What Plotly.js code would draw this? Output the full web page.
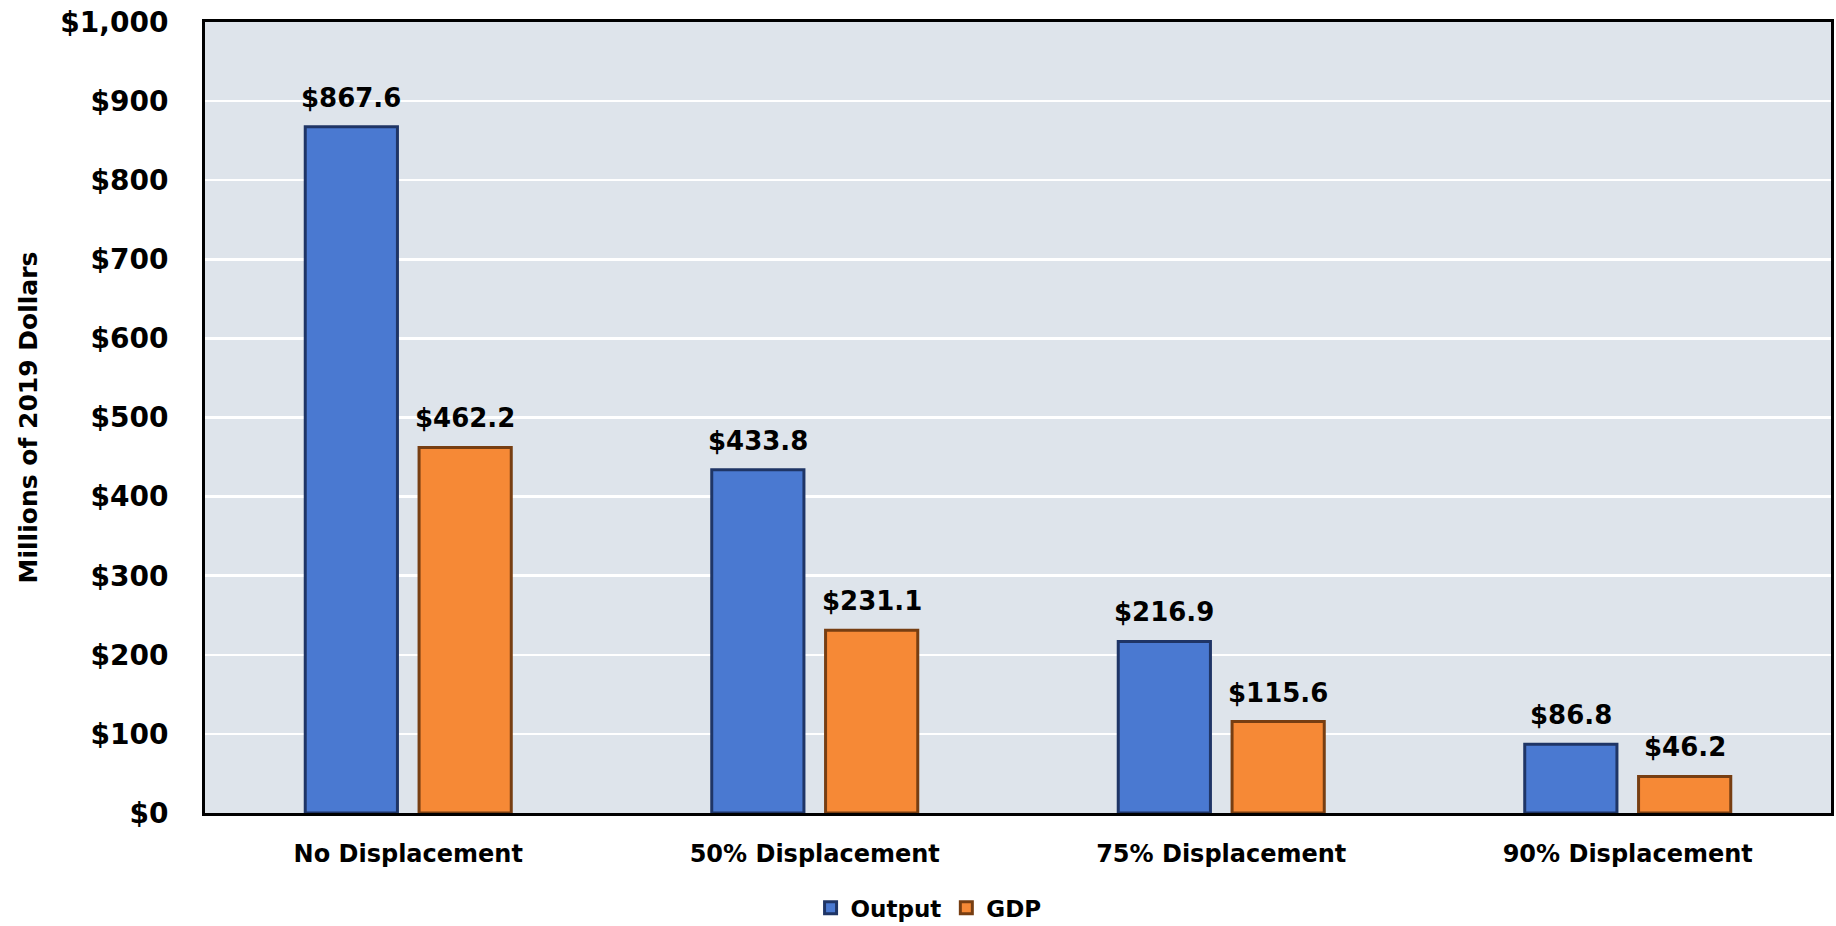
<!DOCTYPE html>
<html>
<head>
<meta charset="utf-8">
<script src="https://cdn.plot.ly/plotly-3.0.1.min.js"></script>
<style>html,body{margin:0;padding:0;background:#fff;}#chart{width:1836px;height:926px;}</style>
</head>
<body>
<div id="chart"></div>
<script>
const categories = ["No Displacement", "50% Displacement", "75% Displacement", "90% Displacement"];
const outputValues = [867.6, 433.8, 216.9, 86.8];
const gdpValues = [462.2, 231.1, 115.6, 46.2];
const yTickVals = [0, 100, 200, 300, 400, 500, 600, 700, 800, 900, 1000];
const yTickText = ["$0", "$100", "$200", "$300", "$400", "$500", "$600", "$700", "$800", "$900", "$1,000"];

const FONT = "'DejaVu Sans', Lato, sans-serif";
const fmt = v => "$" + v.toFixed(1);

const traces = [
  {
    type: "bar", name: "Output", x: categories, y: outputValues,
    marker: {color: "#4a79d1", line: {color: "#1f3566", width: 3}},
    hoverinfo: "skip"
  },
  {
    type: "bar", name: "GDP", x: categories, y: gdpValues,
    marker: {color: "#f68936", line: {color: "#773e12", width: 3}},
    hoverinfo: "skip"
  }
];

const annotations = [];
categories.forEach((c, i) => {
  annotations.push({x: c, y: outputValues[i], xref: "x", yref: "y", text: fmt(outputValues[i]),
    showarrow: false, yanchor: "bottom", xshift: -57, yshift: 12,
    font: {family: FONT, size: 26, color: "#000", weight: "bold"}});
  annotations.push({x: c, y: gdpValues[i], xref: "x", yref: "y", text: fmt(gdpValues[i]),
    showarrow: false, yanchor: "bottom", xshift: 57, yshift: 12,
    font: {family: FONT, size: 26, color: "#000", weight: "bold"}});
});

const layout = {
  width: 1836, height: 926,
  margin: {l: 205, r: 5, t: 22, b: 113, autoexpand: false},
  paper_bgcolor: "#ffffff",
  plot_bgcolor: "#dee4eb",
  barmode: "group",
  bargap: 0.44,
  bargroupgap: 0.19,
  font: {family: FONT, color: "#000", weight: "bold"},
  xaxis: {
    type: "category", automargin: false,
    showgrid: false,
    showline: true, linecolor: "#000", linewidth: 3, mirror: true,
    ticks: "", ticklabelstandoff: 17,
    tickfont: {family: FONT, size: 24, color: "#000", weight: "bold"}
  },
  yaxis: {
    range: [0, 1000], automargin: false,
    tickvals: yTickVals, ticktext: yTickText,
    showgrid: true, gridcolor: "#ffffff", gridwidth: 2.5,
    zeroline: false,
    showline: true, linecolor: "#000", linewidth: 3, mirror: true,
    ticks: "", ticklabelstandoff: 28,
    tickfont: {family: FONT, size: 28, color: "#000", weight: "bold"},
    title: {text: "Millions of 2019 Dollars", standoff: 16,
      font: {family: FONT, size: 25, color: "#000", weight: "bold"}}
  },
  showlegend: true,
  legend: {
    orientation: "h", x: 0.445, xanchor: "center", y: -0.12, yanchor: "middle",
    font: {family: FONT, size: 23, color: "#000", weight: "bold"},
    itemwidth: 30
  },
  annotations: annotations
};

Plotly.newPlot("chart", traces, layout, {displayModeBar: false, staticPlot: true});
</script>
</body>
</html>
